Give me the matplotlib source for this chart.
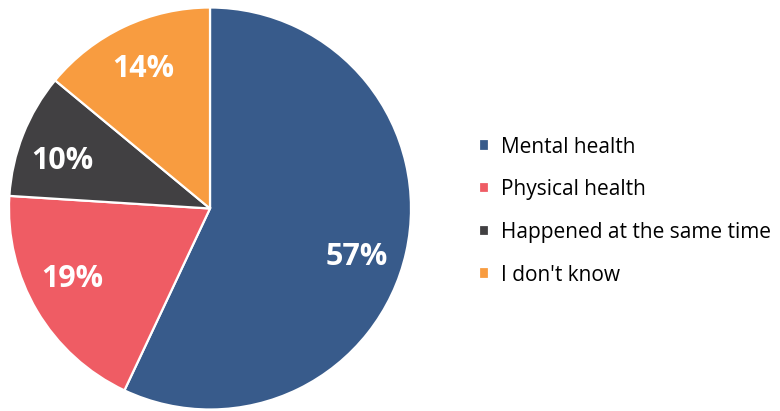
import numpy as np
import matplotlib.pyplot as plt

plt.rcParams['font.family'] = ['Open Sans', 'DejaVu Sans']

labels = ['Mental health', 'Physical health', 'Happened at the same time', "I don't know"]
values = [57, 19, 10, 14]
colors = ['#385B8B', '#EF5C64', '#414042', '#F89C40']

fig = plt.figure(figsize=(7.8, 4.11), dpi=100)
# square axes holding the pie, radius 201 px around (210, 208.5)
ax = fig.add_axes([9 / 780, (411 - 208.5 - 201) / 411, 402 / 780, 402 / 411])

wedges, texts, autotexts = ax.pie(
    values, colors=colors, startangle=90, counterclock=False,
    autopct='%d%%', pctdistance=0.77, radius=1.0,
    wedgeprops=dict(edgecolor='white', linewidth=1.6),
    textprops=dict(color='white', fontsize=22, fontweight='bold'))

# nudge the percentage labels a little around the ring
shift = [-5.8, -3.4, 3.6, 0.4]
for w, t, s in zip(wedges, autotexts, shift):
    ang = np.deg2rad((w.theta1 + w.theta2) / 2 + s)
    t.set_position((0.77 * np.cos(ang), 0.77 * np.sin(ang)))

ax.set_xlim(-1, 1)
ax.set_ylim(-1, 1)
ax.set_aspect('equal')
ax.axis('off')

fig.legend(wedges, labels, loc='center left', bbox_to_anchor=(471 / 780, 1 - 211 / 411),
           frameon=False, fontsize=15, handlelength=0.45, handleheight=0.45,
           handletextpad=0.6, labelspacing=1.04, borderaxespad=0)

fig.savefig('out.png', dpi=100)
